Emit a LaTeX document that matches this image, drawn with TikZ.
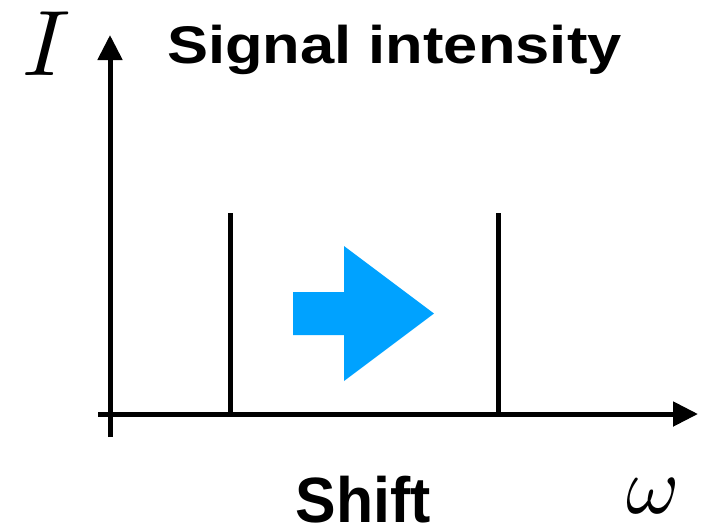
\documentclass[tikz,border=0pt]{standalone}
\usepackage{graphicx}
\usepackage{fontspec}
\setsansfont{Liberation Sans}
\usetikzlibrary{arrows.meta}
\definecolor{shiftblue}{RGB}{0,162,255}
\begin{document}
\begin{tikzpicture}[x=1pt,y=-1pt,
  axis/.style={line width=5pt,-{Triangle[length=25pt,width=24pt]}},
  peak/.style={line width=5pt},
  title/.style={inner sep=0pt,anchor=base,font=\sffamily\bfseries\fontsize{53}{53}\selectfont},
  mathlabel/.style={inner sep=0pt,anchor=base}]
\useasboundingbox (0,0) rectangle (703,531);
% coordinates
\coordinate (yb) at (110,437);
\coordinate (yt) at (110,35);
\coordinate (xl) at (98,414);
\coordinate (xr) at (698,414);
\coordinate (p1b) at (230,414);
\coordinate (p1t) at (230,213);
\coordinate (p2b) at (498,414);
\coordinate (p2t) at (498,213);
% axes
\draw[axis] (yb) -- (yt);
\draw[axis] (xl) -- (xr);
% peaks
\draw[peak] (p1b) -- (p1t);
\draw[peak] (p2b) -- (p2t);
% shift arrow
\fill[shiftblue] (293,292) -- (344,292) -- (344,246) -- (434,313.5) -- (344,381) -- (344,335) -- (293,335) -- cycle;
% labels
\node[mathlabel] (ilab) at (47,75) {\fontsize{10}{10}\selectfont\scalebox{9.3}{$I$}};
\node[mathlabel] (wlab) at (653,513) {\fontsize{10}{10}\selectfont\scalebox{8.1}{$\omega$}};
\node[title] (sig) at (394.5,63) {\scalebox{1.16}[1]{Signal intensity}};
\node[title,font=\sffamily\bfseries\fontsize{64}{64}\selectfont] (shift) at (363,522) {\scalebox{0.95}[1]{Shift}};
\end{tikzpicture}
\end{document}
